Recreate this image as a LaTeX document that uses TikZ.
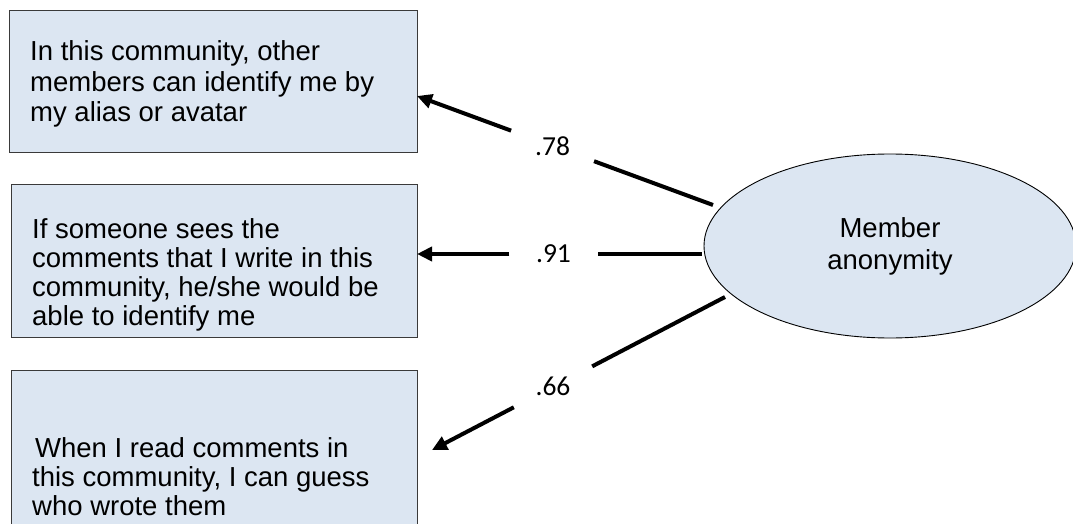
\documentclass[tikz,border=0pt]{standalone}
\usepackage{fontspec}
\setmainfont{Liberation Sans}
\newfontfamily\numfont{Carlito}
\usetikzlibrary{shapes.geometric,arrows.meta,calc}
\definecolor{boxfill}{HTML}{DCE6F2}
\definecolor{boxline}{HTML}{3A3A3A}
\begin{document}
\begin{tikzpicture}[x=1pt,y=-1pt,
  itembox/.style={rectangle, draw=boxline, line width=0.9pt, fill=boxfill,
    inner sep=0pt, anchor=north west},
  % base anchor of a multi-line node sits on its last line
  itemtext/.style={anchor=base west, inner sep=0pt, align=left},
  latent/.style={ellipse, draw=black, line width=0.9pt, fill=boxfill,
    inner sep=0pt, minimum width=372pt, minimum height=184pt, align=center,
    font=\fontsize{27.5}{32}\selectfont},
  loadlbl/.style={circle, inner sep=0pt, minimum size=88pt,
    font=\numfont\fontsize{27.5}{30}\selectfont},
  loadline/.style={line width=4pt},
  loading/.style={loadline, -{Triangle[length=15pt,width=14pt]}}
]
\useasboundingbox (0,0) rectangle (1073,524);
\begin{scope}
\clip (0,0) rectangle (1073,524);

% indicator boxes
\node[itembox, minimum width=408pt, minimum height=142pt] (b1) at (9,10) {};
\node[itembox, minimum width=406pt, minimum height=153pt] (b2) at (11,184) {};
\node[itembox, minimum width=406pt, minimum height=200pt] (b3) at (11,370) {};

\node[itemtext, font=\fontsize{27.5}{31}\selectfont] (x1) at (30,122)
  {In this community, other\\members can identify me by\\my alias or avatar};
\node[itemtext, font=\fontsize{27.5}{29}\selectfont] (x2) at (32,325)
  {If someone sees the\\comments that I write in this\\community, he/she would be\\able to identify me};
\node[itemtext, font=\fontsize{27.5}{29}\selectfont] (x3) at (32,515)
  {\hspace*{3pt}When I read comments in\\this community, I can guess\\who wrote them};

% latent construct
\node[latent] (ell) at (890,246) {Member\\anonymity};

% loading paths
\coordinate (s1) at (713,205);
\coordinate (t1) at (417,96);
\coordinate (s2) at (702,254);
\coordinate (t2) at (417,254);
\coordinate (s3) at (725,297);
\coordinate (t3) at (432,450);

\node[loadlbl] (l1) at ($(s1)!0.542!(t1)$) {.78};
\node[loadlbl] (l2) at ($(s2)!0.521!(t2)$) {.91};
\node[loadlbl] (l3) at ($(s3)!0.587!(t3)$) {.66};

\draw[loadline] (s1) -- (l1);
\draw[loading] (l1) -- (t1);
\draw[loadline] (s2) -- (l2);
\draw[loading] (l2) -- (t2);
\draw[loadline] (s3) -- (l3);
\draw[loading] (l3) -- (t3);
\end{scope}
\end{tikzpicture}
\end{document}
